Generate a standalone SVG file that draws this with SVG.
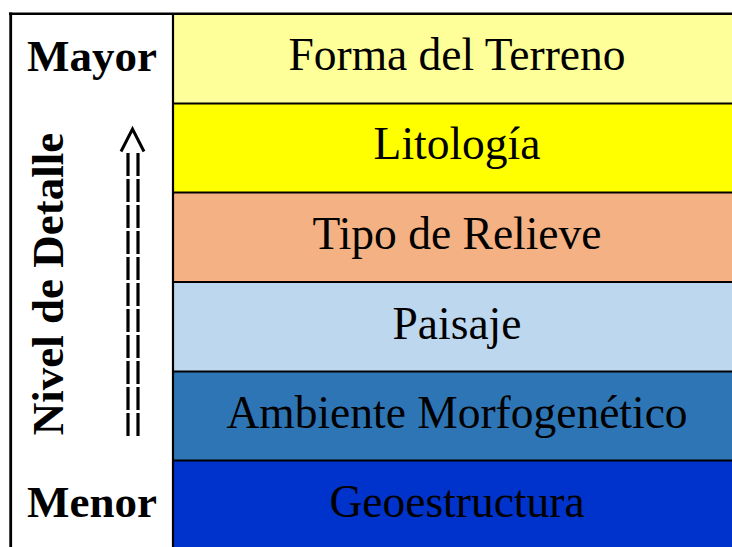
<svg xmlns="http://www.w3.org/2000/svg" width="732" height="547" viewBox="0 0 732 547">
<style>
.lbl{font-family:"Liberation Serif","Times New Roman",serif;font-size:45.5px;fill:#000;text-anchor:middle}
.b{font-weight:bold;font-size:45px}
.rowline{stroke:#000;stroke-width:2}
.dash{stroke:#000;stroke-width:3.2;stroke-dasharray:23 3;fill:none}
</style>
<rect x="0" y="0" width="732" height="547" fill="#fff"/>
<g id="cell-forma"><rect x="173" y="14" width="559" height="90" fill="#FFFF99"/><text class="lbl" x="457" y="70">Forma del Terreno</text></g>
<g id="cell-litologia"><rect x="173" y="103" width="559" height="90" fill="#FFFF00"/><text class="lbl" x="457" y="159">Litología</text></g>
<g id="cell-tipo"><rect x="173" y="192" width="559" height="91" fill="#F4B183"/><text class="lbl" x="457" y="249">Tipo de Relieve</text></g>
<g id="cell-paisaje"><rect x="173" y="282" width="559" height="90" fill="#BDD7EE"/><text class="lbl" x="457" y="339">Paisaje</text></g>
<g id="cell-ambiente"><rect x="173" y="371" width="559" height="90" fill="#2E75B6"/><text class="lbl" x="457" y="428">Ambiente Morfogenético</text></g>
<g id="cell-geo"><rect x="173" y="460" width="559" height="87" fill="#0033CC"/><text class="lbl" x="457" y="517">Geoestructura</text></g>
<g id="grid">
<line class="rowline" x1="173" y1="103.5" x2="732" y2="103.5"/>
<line class="rowline" x1="173" y1="192.5" x2="732" y2="192.5"/>
<line class="rowline" x1="173" y1="282" x2="732" y2="282"/>
<line class="rowline" x1="173" y1="371.5" x2="732" y2="371.5"/>
<line class="rowline" x1="173" y1="460.5" x2="732" y2="460.5"/>
<line x1="173" y1="13" x2="173" y2="547" stroke="#000" stroke-width="2.2"/>
<line x1="9" y1="13.8" x2="732" y2="13.8" stroke="#000" stroke-width="2.6"/>
<line x1="10.7" y1="12.5" x2="10.7" y2="547" stroke="#000" stroke-width="2.8"/>
</g>
<g id="mayor"><text class="lbl b" x="92" y="71">Mayor</text></g>
<g id="menor"><text class="lbl b" x="92" y="517">Menor</text></g>
<g id="nivel"><text class="lbl b" transform="translate(63,284) rotate(-90)" x="0" y="0">Nivel de Detalle</text></g>
<g id="connectors">
<path d="M121,151.5 L132.5,129 L144,151.5" fill="none" stroke="#000" stroke-width="3"/>
<line class="dash" x1="128" y1="153" x2="128" y2="436"/>
<line class="dash" x1="138" y1="153" x2="138" y2="436"/>
</g>
</svg>
